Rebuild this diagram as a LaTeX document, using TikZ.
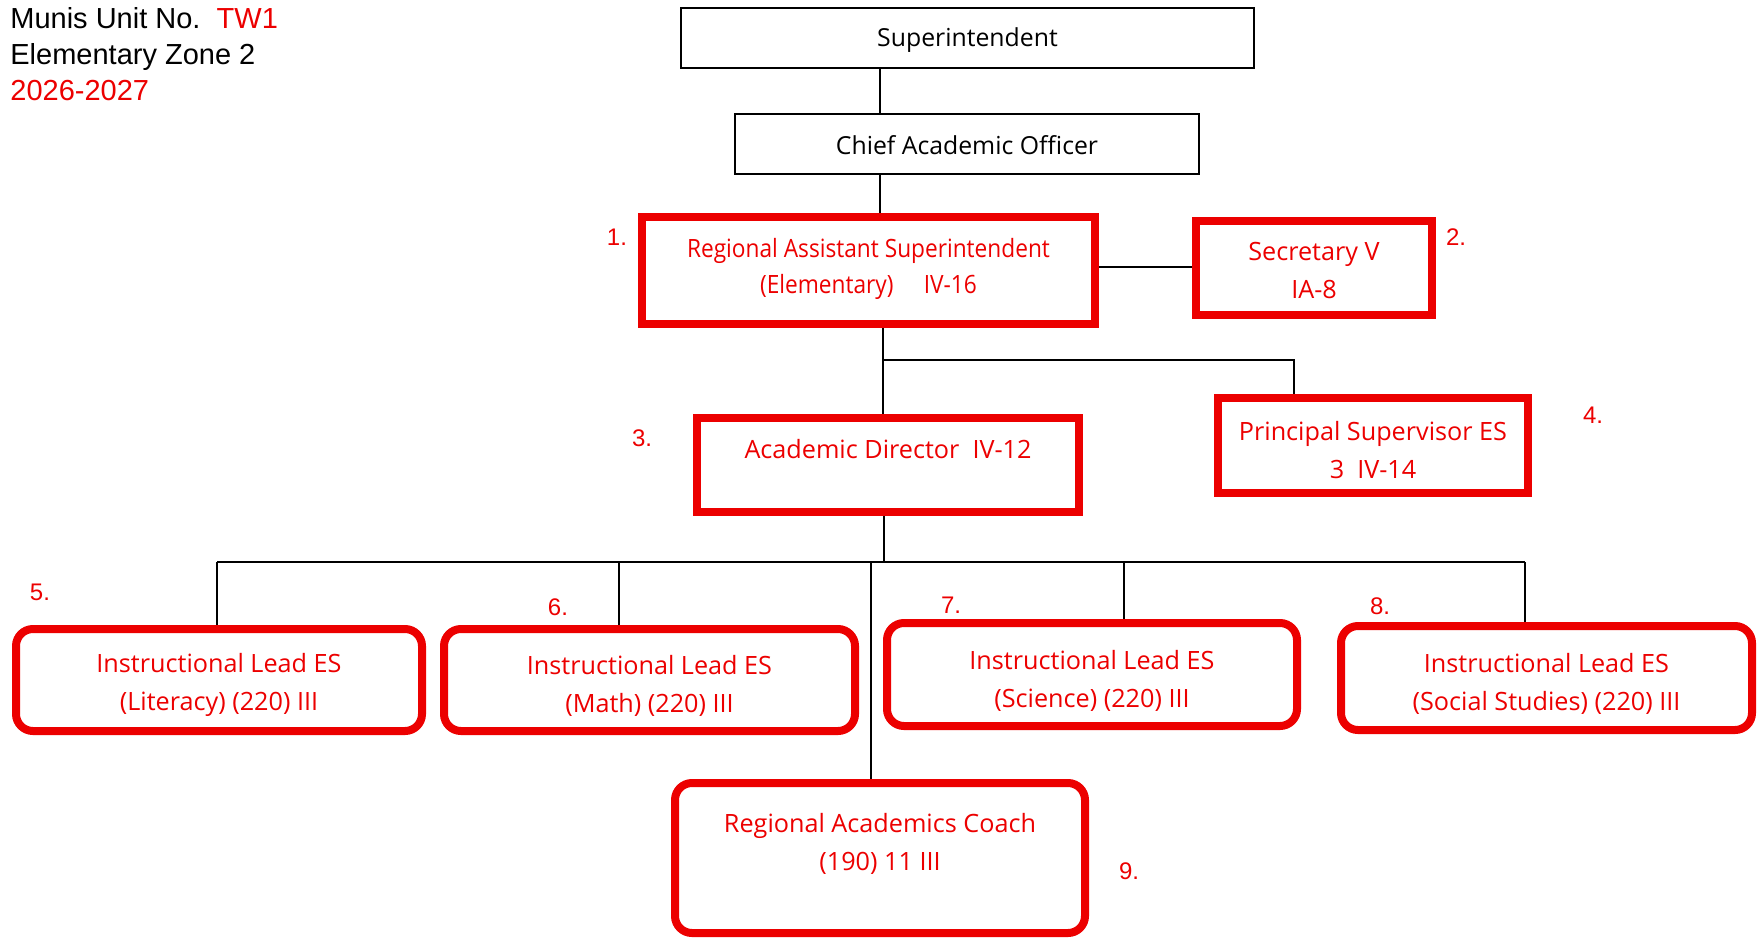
\documentclass[tikz,border=0pt]{standalone}
\usepackage{fontspec}
\setmainfont{Liberation Sans}
\newfontfamily\boxfont{Open Sans}
\newfontfamily\boxnarrow[FakeStretch=0.9]{Open Sans}
\definecolor{orgred}{RGB}{236,0,0}
\newcommand\boxstrut[1]{\rule{0pt}{#1pt}}

\begin{document}
\begin{tikzpicture}[x=0.5pt,y=-0.5pt,
    plainbox/.style={draw, line width=1.3pt, inner sep=0pt, align=center,
      font=\boxfont\fontsize{12.4}{18}\selectfont},
    redbox/.style={draw=orgred, text=orgred, line width=4pt, inner sep=0pt, align=center,
      font=\boxfont\fontsize{12.6}{19}\selectfont},
    roundbox/.style={redbox, rounded corners=8.5pt},
    num/.style={text=orgred, font=\fontsize{12}{14}\selectfont},
    link/.style={line width=0.7pt}]
  \useasboundingbox (0,0) rectangle (1762,943);

  % unit heading
  \node[anchor=base west, inner sep=0pt, font=\fontsize{14.5}{17}\selectfont] (unit) at (10,28.5)
    {Munis Unit No.\ \ \textcolor{orgred}{TW1}};
  \node[anchor=base west, inner sep=0pt, font=\fontsize{14.5}{17}\selectfont] (zone) at (10,64.5)
    {Elementary Zone 2};
  \node[anchor=base west, inner sep=0pt, text=orgred, font=\fontsize{14.5}{17}\selectfont] (year) at (10,100.5)
    {2026-2027};

  % top of the chart
  \node[plainbox, minimum width=286.5pt, minimum height=30pt] (super) at (967.5,38)
    {\boxstrut{11}Superintendent};
  \node[plainbox, minimum width=232pt, minimum height=30pt] (chief) at (967,144)
    {\boxstrut{10.5}Chief Academic Officer};
  \node[redbox, minimum width=226.5pt, minimum height=53.5pt,
    font=\boxnarrow\fontsize{12.6}{18}\selectfont] (ras) at (868.5,270.5)
    {Regional Assistant Superintendent\\(Elementary)\hspace{1.2em}IV-16\rule[-5pt]{0pt}{0pt}};
  \node[redbox, minimum width=118pt, minimum height=47pt] (sec) at (1314,268)
    {\boxstrut{12}Secretary V\\IA-8};

  % second row
  \node[redbox, minimum width=191pt, minimum height=47pt] (ad) at (888,465)
    {\boxstrut{18.5}Academic Director\ \ IV-12\\\strut};
  \node[redbox, minimum width=155pt, minimum height=47.5pt] (ps) at (1373,445.5)
    {\boxstrut{14}Principal Supervisor ES\\3\ \ IV-14};

  % instructional leads
  \node[roundbox, minimum width=203pt, minimum height=51pt] (lit) at (219,680)
    {\boxstrut{15}Instructional Lead ES\\(Literacy) (220) III};
  \node[roundbox, minimum width=205.5pt, minimum height=51pt] (math) at (649.5,680)
    {\boxstrut{15}Instructional Lead ES\\(Math) (220) III};
  \node[roundbox, minimum width=205pt, minimum height=51.5pt] (sci) at (1092,674.5)
    {\boxstrut{15.5}Instructional Lead ES\\(Science) (220) III};
  \node[roundbox, minimum width=205.5pt, minimum height=52pt] (soc) at (1546.5,678)
    {\boxstrut{15.5}Instructional Lead ES\\(Social Studies) (220) III};
  \node[roundbox, minimum width=205pt, minimum height=75pt] (coach) at (880,858)
    {\boxstrut{18}Regional Academics Coach\\(190) 11 III\\\strut};

  % position numbers
  \foreach \n/\x/\y in {1/617/237, 2/1456/237, 3/642/438, 4/1593/415,
    5/40/592, 6/558/607, 7/951/605, 8/1380/606, 9/1129/871}{
    \node[num] (num\n) at (\x,\y) {\n.};
  }

  % connectors
  \coordinate (trunk) at (880,0);
  \coordinate (split) at (883,360);
  \coordinate (psdrop) at (1294,360);
  \coordinate (bus) at (884,562);
  \draw[link] (super.south -| trunk) -- (chief.north -| trunk);
  \draw[link] (chief.south -| trunk) -- (ras.north -| trunk);
  \draw[link] (ras.east |- 0,267) -- (sec.west |- 0,267);
  \draw[link] (ras.south -| split) -- (ad.north -| split);
  \draw[link] (split) -- (psdrop) -- (ps.north -| psdrop);
  \draw[link] (ad.south -| bus) -- (bus);
  \draw[link] (217,562) -- (1525,562);
  \foreach \lead/\x in {lit/217, math/619, sci/1124, soc/1525}{
    \draw[link] (\x,562) -- (\lead.north -| \x,0);
  }
  \draw[link] (871,562) -- (coach.north -| 871,0);
\end{tikzpicture}
\end{document}
